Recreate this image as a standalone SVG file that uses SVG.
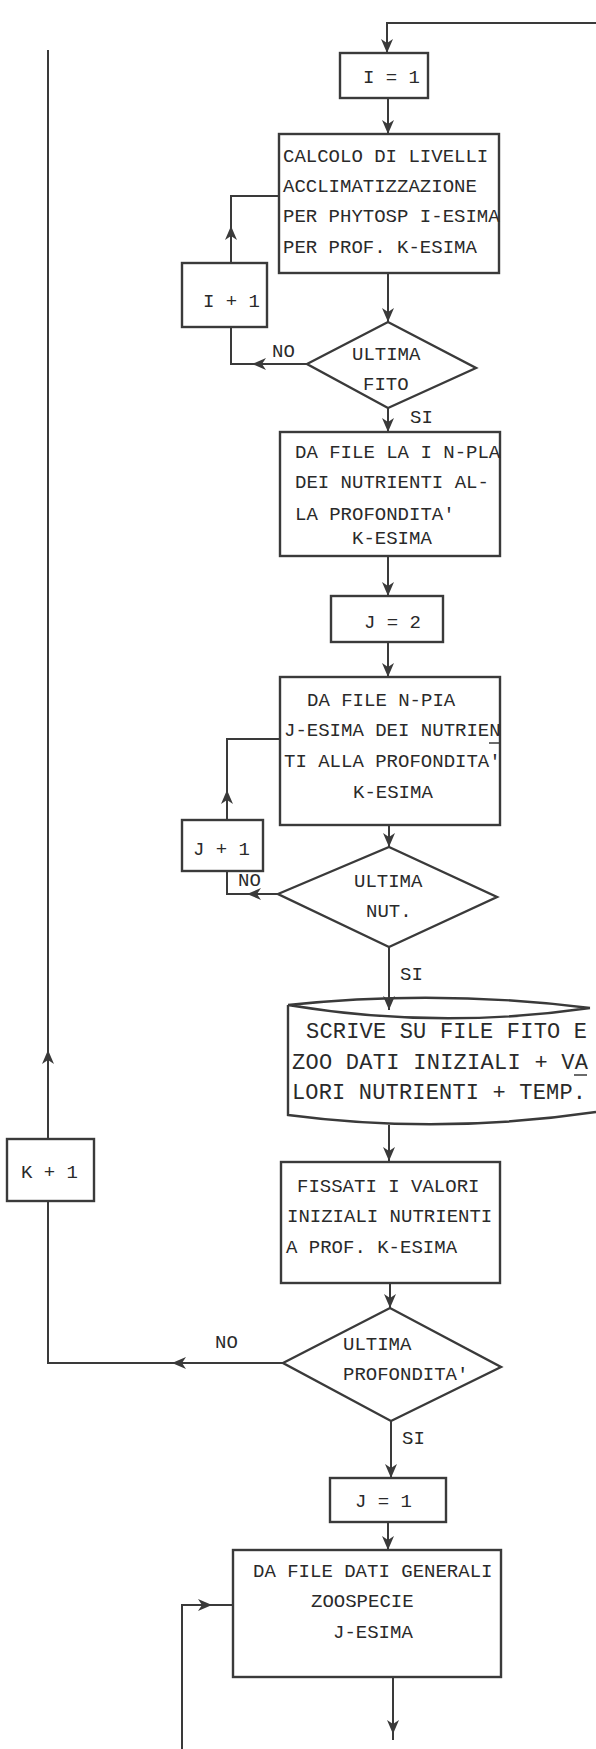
<svg xmlns="http://www.w3.org/2000/svg" width="596" height="1749" viewBox="0 0 596 1749">
<style>
.ln{fill:none;stroke:#3a3a3a;stroke-width:2}
.bx{fill:none;stroke:#3a3a3a;stroke-width:2.4}
text{font-family:"Liberation Mono","DejaVu Sans Mono",monospace;font-size:19px;fill:#2a2a2a}
.big{font-size:22px}
</style>
<defs>
<marker id="ah" viewBox="0 0 14 12" refX="14" refY="6" markerWidth="14" markerHeight="12" markerUnits="userSpaceOnUse" orient="auto">
<path d="M0,0 L14,6 L0,12 L4,6 z" fill="#3a3a3a"/>
</marker>
</defs>
<rect width="596" height="1749" fill="#ffffff"/>
<g id="connectors">
<path class="ln" d="M596,23 H387 V53" marker-end="url(#ah)"/>
<path class="ln" d="M48,1139 V1050" marker-end="url(#ah)"/>
<path class="ln" d="M48,1050 V50"/>
<path class="ln" d="M388,98 V134" marker-end="url(#ah)"/>
<path class="ln" d="M231,263 V226" marker-end="url(#ah)"/>
<path class="ln" d="M231,226 V196 H279"/>
<path class="ln" d="M307,364 H252" marker-end="url(#ah)"/>
<path class="ln" d="M252,364 H231 V327"/>
<path class="ln" d="M388,273 V322" marker-end="url(#ah)"/>
<path class="ln" d="M388,408 V432" marker-end="url(#ah)"/>
<path class="ln" d="M388,556 V596" marker-end="url(#ah)"/>
<path class="ln" d="M388,642 V677" marker-end="url(#ah)"/>
<path class="ln" d="M227,820 V790" marker-end="url(#ah)"/>
<path class="ln" d="M227,790 V739 H280"/>
<path class="ln" d="M389,825 V847" marker-end="url(#ah)"/>
<path class="ln" d="M278,894 H247" marker-end="url(#ah)"/>
<path class="ln" d="M247,894 H227 V871"/>
<path class="ln" d="M389,947 V1010" marker-end="url(#ah)"/>
<path class="ln" d="M389,1125 V1161" marker-end="url(#ah)"/>
<path class="ln" d="M390,1283 V1308" marker-end="url(#ah)"/>
<path class="ln" d="M283,1363 H172" marker-end="url(#ah)"/>
<path class="ln" d="M172,1363 H48 V1201"/>
<path class="ln" d="M391,1421 V1478" marker-end="url(#ah)"/>
<path class="ln" d="M388,1522 V1550" marker-end="url(#ah)"/>
<path class="ln" d="M182,1749 V1605 H212" marker-end="url(#ah)"/>
<path class="ln" d="M212,1605 H233"/>
<path class="ln" d="M393,1677 V1734" marker-end="url(#ah)"/>
<path class="ln" d="M393,1734 V1740"/>
<text x="272" y="357">NO</text>
<text x="410" y="423">SI</text>
<text x="238" y="886">NO</text>
<text x="400" y="980">SI</text>
<text x="215" y="1348">NO</text>
<text x="402" y="1444">SI</text>
</g>
<g id="n_i1">
<rect class="bx" x="340" y="53" width="88" height="45"/>
<text x="363" y="83">I = 1</text>
</g>
<g id="n_calc">
<rect class="bx" x="279" y="134" width="220" height="139"/>
<text x="283" y="162">CALCOLO DI LIVELLI</text>
<text x="283" y="192">ACCLIMATIZZAZIONE</text>
<text x="283" y="222">PER PHYTOSP I-ESIMA</text>
<text x="283" y="253">PER PROF. K-ESIMA</text>
</g>
<g id="n_ip1">
<rect class="bx" x="182" y="263" width="85" height="64"/>
<text x="203" y="307">I + 1</text>
</g>
<g id="d_fito">
<polygon class="bx" points="307,364 388,322 476,368 388,408"/>
<text x="352" y="360">ULTIMA</text>
<text x="363" y="390">FITO</text>
</g>
<g id="n_file1">
<rect class="bx" x="280" y="432" width="220" height="124"/>
<text x="295" y="458">DA FILE LA I N-PLA</text>
<text x="295" y="488">DEI NUTRIENTI AL-</text>
<text x="295" y="520">LA PROFONDITA'</text>
<text x="352" y="544">K-ESIMA</text>
</g>
<g id="n_j2">
<rect class="bx" x="331" y="596" width="112" height="46"/>
<text x="364" y="628">J = 2</text>
</g>
<g id="n_file2">
<rect class="bx" x="280" y="677" width="220" height="148"/>
<text x="307" y="706">DA FILE N-PIA</text>
<text x="284" y="736">J-ESIMA DEI NUTRIEN</text>
<text x="284" y="767">TI ALLA PROFONDITA'</text>
<text x="353" y="798">K-ESIMA</text>
<path class="ln" d="M489,743 H500" style="stroke-width:1.5"/>
</g>
<g id="n_jp1">
<rect class="bx" x="182" y="820" width="81" height="51"/>
<text x="193" y="855">J + 1</text>
</g>
<g id="d_nut">
<polygon class="bx" points="278,894 389,847 497,897 389,947"/>
<text x="354" y="887">ULTIMA</text>
<text x="366" y="917">NUT.</text>
</g>
<g id="n_cyl">
<path class="bx" d="M288,1005 Q438,989 590,1008 M288,1005 Q438,1030 590,1008 M288,1005 V1115 Q440,1135 596,1112"/>
<text class="big" x="306" y="1038" textLength="281" lengthAdjust="spacing">SCRIVE SU FILE FITO E</text>
<text class="big" x="292" y="1069" textLength="296" lengthAdjust="spacing">ZOO DATI INIZIALI + VA</text>
<text class="big" x="292" y="1099" textLength="294" lengthAdjust="spacing">LORI NUTRIENTI + TEMP.</text>
<path class="ln" d="M574,1075 H587" style="stroke-width:1.5"/>
</g>
<g id="n_fiss">
<rect class="bx" x="281" y="1162" width="219" height="121"/>
<text x="297" y="1192">FISSATI I VALORI</text>
<text x="287" y="1222">INIZIALI NUTRIENTI</text>
<text x="286" y="1253">A PROF. K-ESIMA</text>
</g>
<g id="d_prof">
<polygon class="bx" points="283,1363 390,1308 501,1367 391,1421"/>
<text x="343" y="1350">ULTIMA</text>
<text x="343" y="1380">PROFONDITA'</text>
</g>
<g id="n_kp1">
<rect class="bx" x="7" y="1139" width="87" height="62"/>
<text x="21" y="1178">K + 1</text>
</g>
<g id="n_j1">
<rect class="bx" x="330" y="1478" width="116" height="44"/>
<text x="355" y="1507">J = 1</text>
</g>
<g id="n_gen">
<rect class="bx" x="233" y="1550" width="268" height="127"/>
<text x="253" y="1577">DA FILE DATI GENERALI</text>
<text x="311" y="1607">ZOOSPECIE</text>
<text x="333" y="1638">J-ESIMA</text>
</g>
</svg>
